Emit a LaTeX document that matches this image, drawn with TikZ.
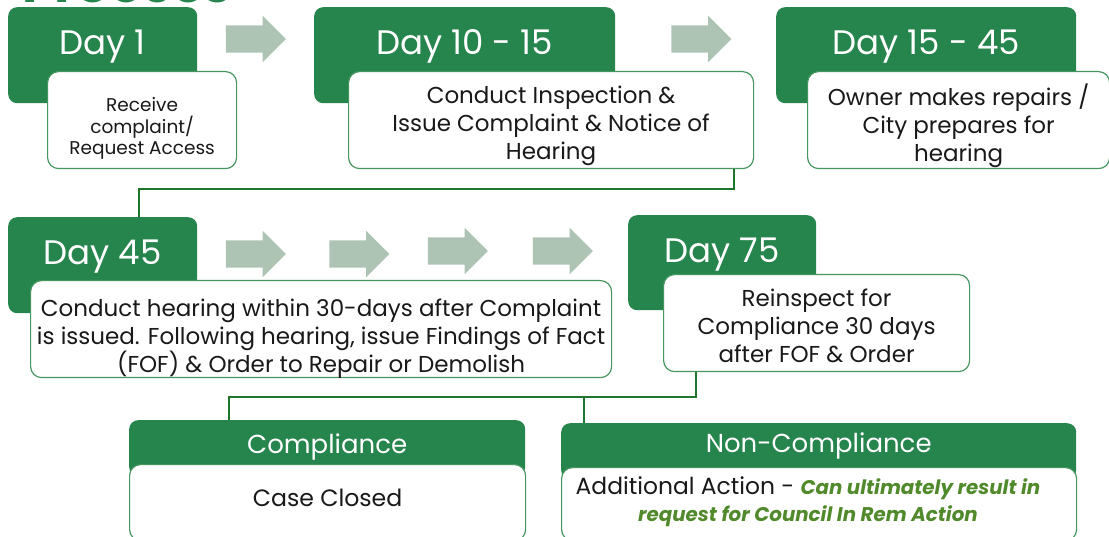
\documentclass[tikz,border=0pt]{standalone}
\usepackage{fontspec}
\setmainfont{Poppins}
\usetikzlibrary{positioning,shapes.arrows}
\definecolor{daygreen}{RGB}{38,132,77}
\definecolor{linegreen}{RGB}{30,118,45}
\definecolor{edgegreen}{RGB}{70,150,95}
\definecolor{arrowgray}{RGB}{173,195,180}
\definecolor{notegreen}{RGB}{80,138,42}
\definecolor{inkgray}{RGB}{25,25,25}
\begin{document}
\begin{tikzpicture}[
        x=1pt,y=-1pt,
        daybox/.style={rectangle,fill=daygreen,rounded corners=9pt,text=white,anchor=north west,inner sep=0pt,font=\fontsize{34}{40}\selectfont,text height=47pt},
        stepbox/.style={rectangle,draw=edgegreen,line width=1.2pt,fill=white,rounded corners=11pt,anchor=north west,inner sep=0pt,align=center,text=inkgray},
        blockarrow/.style={single arrow,fill=arrowgray,inner xsep=0pt,inner ysep=13.5pt,minimum height=60pt,single arrow head extend=9.5pt},
        resulthead/.style={rectangle,fill=daygreen,rounded corners=9pt,text=white,anchor=north west,inner sep=0pt,font=\fontsize{26}{32}\selectfont},
        conn/.style={draw=linegreen,line width=2pt}
    ]
    \useasboundingbox (0,0) rectangle (1109,537);
    \clip (0,0) rectangle (1109,537);

    % title, cut off at the top
    \node[anchor=base west,inner sep=0pt,text=daygreen,font=\fontsize{52}{52}\selectfont\bfseries] (title) at (22,3) {Process};

    % top row
    \node[daybox,minimum width=189pt,text depth=49pt] (d1) at (8,7) {Day 1};
    \node[daybox,minimum width=301pt,text depth=49pt] (d2) at (314,7) {Day 10 - 15};
    \node[daybox,minimum width=300pt,text depth=49pt] (d3) at (776,7) {Day 15 - 45};

    \node[stepbox,minimum width=189pt,text height=83pt,text depth=14pt,font=\fontsize{18.5}{21.5}\selectfont] (t1) at (47,71) {Receive\\complaint/\\Request Access};
    \node[stepbox,minimum width=405pt,text height=88pt,text depth=9pt,font=\fontsize{23}{28}\selectfont] (t2) at (348,71) {Conduct Inspection \&\\Issue Complaint \& Notice of\\Hearing};
    \node[stepbox,minimum width=302pt,text height=90pt,text depth=7pt,font=\fontsize{23}{28}\selectfont] (t3) at (807,71) {Owner makes repairs /\\City prepares for\\hearing};

    \node[blockarrow] (a1) at (249,39) {};
    \node[blockarrow] (a2) at (694.5,39) {};

    % middle row
    \node[daybox,minimum width=189pt,text depth=49pt] (d4) at (8,217) {Day 45};
    \node[daybox,minimum width=188pt,text depth=48pt] (d5) at (628,215) {Day 75};

    \node[stepbox,minimum width=581pt,text height=92pt,text depth=5pt,font=\fontsize{23}{28}\selectfont] (t4) at (30,280) {Conduct hearing within 30-days after Complaint\\is issued. Following hearing, issue Findings of Fact\\(FOF) \& Order to Repair or Demolish};
    \node[stepbox,minimum width=306pt,text height=88pt,text depth=9pt,font=\fontsize{23}{28}\selectfont] (t5) at (663,274) {Reinspect for\\Compliance 30 days\\after FOF \& Order};

    \node[blockarrow] (a3) at (249,254) {};
    \node[blockarrow] (a4) at (352.5,254) {};
    \node[blockarrow] (a5) at (451,251) {};
    \node[blockarrow] (a6) at (556,251) {};

    % outcomes
    \node[resulthead,minimum width=396pt,text height=33pt,text depth=23pt] (ch) at (129,420) {Compliance};
    \node[stepbox,minimum width=396pt,text height=42pt,text depth=34pt,font=\fontsize{23.6}{30}\selectfont] (cb) at (129,464) {Case Closed};
    \node[resulthead,minimum width=515pt,text height=29pt,text depth=27pt] (nh) at (561,423) {Non-Compliance};
    \node[stepbox,minimum width=515pt,minimum height=73pt] (nb) at (561,467) {};
    \node[anchor=base,align=center,inner sep=0pt,text=inkgray,font=\fontsize{23.4}{27}\selectfont] (nbtext) at (808,521) {Additional Action - {\fontsize{19.8}{27}\selectfont\bfseries\itshape\color{notegreen}Can ultimately result in}\\{\fontsize{19.8}{27}\selectfont\bfseries\itshape\color{notegreen}request for Council In Rem Action}};

    % connectors
    \draw[conn] ([xshift=-20pt]t2.south east) -- ++(0,20) -| ([xshift=131pt]d4.north west);
    \draw[conn] ([xshift=33pt]t5.south west) -- ++(0,25) coordinate (split) -| ([xshift=100pt]ch.north west);
    \coordinate (ncin) at ([xshift=23pt]nh.north west);
    \draw[conn] (ncin) -- (ncin |- split);
\end{tikzpicture}
\end{document}
